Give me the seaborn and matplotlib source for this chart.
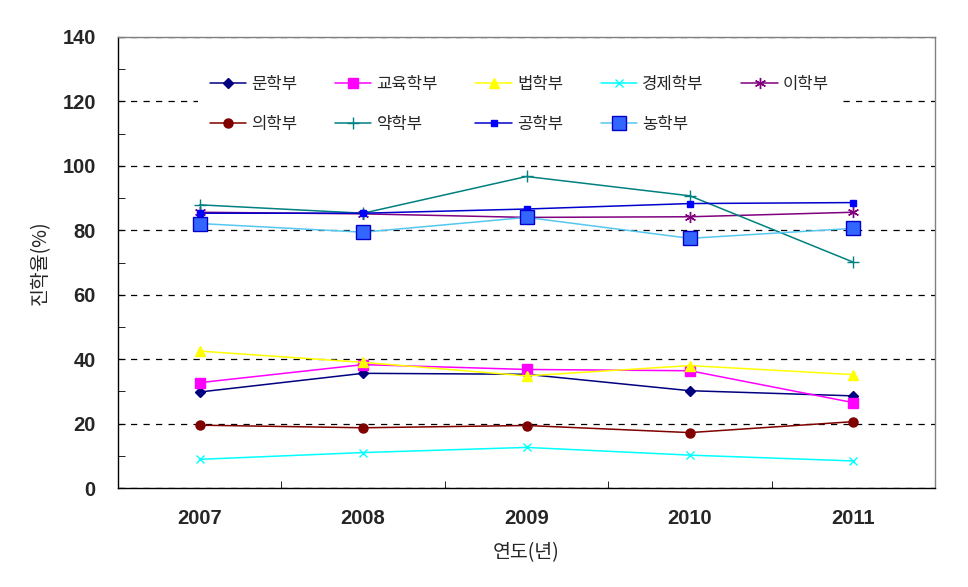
import numpy as np
import pandas as pd
import matplotlib
matplotlib.use("Agg")
import matplotlib.pyplot as plt
from matplotlib.ticker import MultipleLocator, FixedLocator
import seaborn as sns

# ---- data ----
years = ["2007", "2008", "2009", "2010", "2011"]
series_names = ["문학부", "교육학부", "법학부", "경제학부", "이학부",
                "의학부", "약학부", "공학부", "농학부"]
moonhak = [29.8, 35.6, 35.3, 30.2, 28.6]
gyoyuk = [32.7, 38.3, 36.8, 36.4, 26.5]
beop = [42.5, 39.0, 34.8, 38.0, 35.2]
gyeongje = [8.9, 11.0, 12.6, 10.2, 8.4]
ihak = [85.6, 85.1, 84.0, 84.2, 85.6]
uihak = [19.5, 18.7, 19.4, 17.2, 20.6]
yakhak = [87.9, 85.3, 96.7, 90.7, 70.1]
gonghak = [85.3, 85.3, 86.6, 88.3, 88.6]
nonghak = [82.1, 79.4, 84.0, 77.5, 80.6]
values = [moonhak, gyoyuk, beop, gyeongje, ihak, uihak, yakhak, gonghak, nonghak]

df = pd.DataFrame({
    "연도": np.tile(np.arange(len(years)), len(series_names)),
    "학부": np.repeat(series_names, len(years)),
    "진학율": np.concatenate(values),
})

# line colour, marker, marker size, marker face, marker edge
styles = {
    "문학부": ("#000080", "D", 5, "#000080", "#000080"),
    "교육학부": ("#FF00FF", "s", 6.5, "#FF00FF", "#FF00FF"),
    "법학부": ("#FFFF00", "^", 7, "#FFFF00", "#FFFF00"),
    "경제학부": ("#00FFFF", "x", 6, "#00FFFF", "#00FFFF"),
    "이학부": ("#800080", (6, 2, 0), 8, "#800080", "#800080"),
    "의학부": ("#800000", "o", 6.5, "#800000", "#800000"),
    "약학부": ("#008080", "+", 8, "#008080", "#008080"),
    "공학부": ("#0000CC", "s", 4, "#0000FF", "#0000FF"),
    "농학부": ("#55C8F0", "s", 10, "#3366FF", "#0000CC"),
}

sns.set_style("white")
plt.rcParams["font.family"] = ["Noto Sans CJK KR", "DejaVu Sans"]

fig = plt.figure(figsize=(9.68, 5.87), dpi=100)
ax = fig.add_axes([118 / 968, 1 - 488 / 587, (935 - 118) / 968, (488 - 37) / 587])

for name in series_names:
    col, mk, ms, mfc, mec = styles[name]
    sub = df[df["학부"] == name]
    sns.lineplot(data=sub, x="연도", y="진학율", ax=ax, color=col, lw=1.1,
                 marker=mk, markersize=ms, markerfacecolor=mfc,
                 markeredgecolor=mec, markeredgewidth=1.0, label=name)

ax.set_xlim(-0.5, len(years) - 0.5)
ax.set_ylim(0, 140)
ax.yaxis.set_major_locator(MultipleLocator(20))
ax.yaxis.set_minor_locator(MultipleLocator(10))
ax.xaxis.set_major_locator(FixedLocator(range(len(years))))
ax.set_xticklabels(years)
ax.xaxis.set_minor_locator(FixedLocator(np.arange(0.5, len(years) - 1, 1.0)))

for lab in ax.get_xticklabels() + ax.get_yticklabels():
    lab.set_fontfamily("Liberation Sans")
    lab.set_fontweight("bold")
    lab.set_fontsize(14.5)

ax.tick_params(axis="x", which="major", length=0, pad=15)
ax.tick_params(axis="x", which="minor", length=5, direction="in", color="black", bottom=True)
ax.tick_params(axis="y", which="both", length=5, direction="in", color="black", left=True, pad=16)

ax.yaxis.grid(True, which="major", linestyle=(0, (5, 5)), color="black", lw=0.9)
ax.xaxis.grid(False)
ax.set_axisbelow(True)

ax.spines["left"].set_color("black")
ax.spines["bottom"].set_color("black")
ax.spines["top"].set_color("#808080")
ax.spines["right"].set_color("#808080")
for sp in ax.spines.values():
    sp.set_linewidth(1.0)

ax.set_xlabel("연도(년)", fontsize=14, labelpad=10)
ax.set_ylabel("진학율(%)", fontsize=14, labelpad=8)

# legend fills row by row like the original: reorder for column-major filling
handles, labels = ax.get_legend_handles_labels()
order = [0, 5, 1, 6, 2, 7, 3, 8, 4]
leg = ax.legend([handles[i] for i in order], [labels[i] for i in order],
                ncol=5, loc="upper left", bbox_to_anchor=(80 / 817, 1 - 27 / 451),
                borderaxespad=0, frameon=True, fancybox=False, framealpha=1,
                edgecolor="none", facecolor="white", fontsize=12,
                handlelength=2.2, columnspacing=2.25, labelspacing=1.4,
                handletextpad=0.3, borderpad=0.69)

fig.savefig("out.png", dpi=100)
